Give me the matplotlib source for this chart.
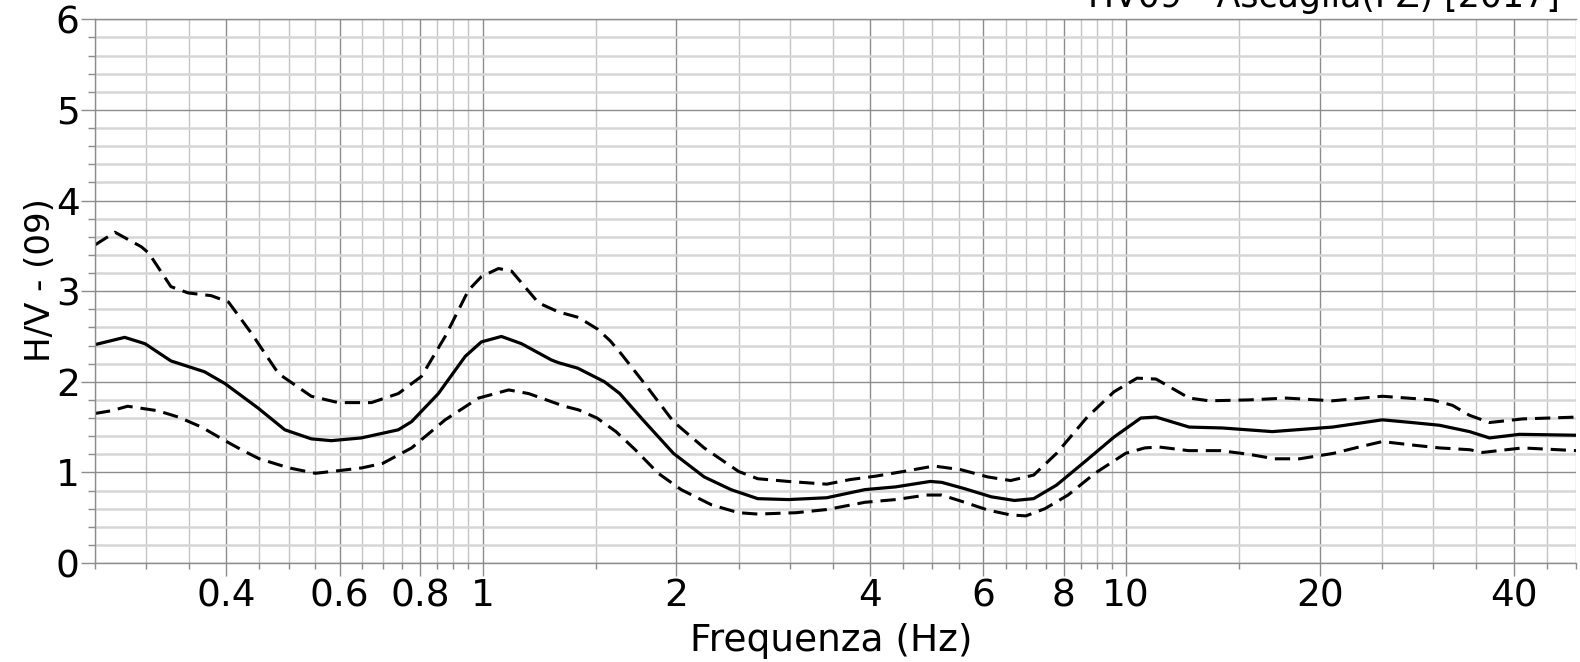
import matplotlib
matplotlib.use("Agg")
import matplotlib.pyplot as plt
from matplotlib.ticker import FixedLocator, NullFormatter, FixedFormatter

# ---------------- data ----------------
freq_mean = [0.25, 0.278, 0.299, 0.328, 0.370, 0.398, 0.448, 0.493, 0.542, 0.582,
             0.648, 0.740, 0.776, 0.854, 0.940, 0.996, 1.07, 1.15, 1.28, 1.313,
             1.406, 1.547, 1.634, 1.775, 1.980, 2.210, 2.432, 2.677, 2.987, 3.426,
             3.929, 4.385, 4.961, 5.169, 5.612, 6.177, 6.705, 7.183, 7.797, 8.700,
             9.577, 10.54, 11.13, 12.53, 14.11, 16.87, 20.92, 25.01, 27.8, 30.68,
             34.16, 36.69, 40.85, 50.0]
hv_mean = [2.41, 2.49, 2.42, 2.23, 2.11, 1.98, 1.71, 1.47, 1.37, 1.35,
           1.38, 1.47, 1.56, 1.87, 2.28, 2.44, 2.50, 2.42, 2.24, 2.21,
           2.15, 2.00, 1.87, 1.58, 1.21, 0.95, 0.81, 0.71, 0.70, 0.72,
           0.81, 0.84, 0.90, 0.89, 0.82, 0.73, 0.69, 0.71, 0.86, 1.14,
           1.39, 1.60, 1.61, 1.50, 1.49, 1.45, 1.50, 1.58, 1.55, 1.52,
           1.45, 1.38, 1.42, 1.41]

freq_up = [0.25, 0.2685, 0.295, 0.303, 0.328, 0.349, 0.379, 0.403, 0.437, 0.482,
           0.542, 0.597, 0.672, 0.740, 0.804, 0.875, 0.951, 0.996, 1.059, 1.11,
           1.222, 1.313, 1.41, 1.51, 1.58, 1.646, 1.799, 1.980, 2.210, 2.500,
           2.677, 2.987, 3.426, 3.721, 4.095, 4.507, 5.029, 5.536, 6.093, 6.614,
           7.183, 7.797, 8.700, 9.577, 10.40, 11.13, 12.53, 13.46, 15.54, 17.74,
           20.92, 25.01, 29.92, 32.14, 34.16, 36.69, 41.30, 50.0]
hv_up = [3.51, 3.65, 3.49, 3.42, 3.05, 2.98, 2.95, 2.88, 2.54, 2.09,
         1.84, 1.77, 1.77, 1.87, 2.06, 2.50, 3.01, 3.16, 3.25, 3.22,
         2.87, 2.77, 2.71, 2.58, 2.45, 2.30, 1.95, 1.56, 1.27, 1.01,
         0.93, 0.90, 0.87, 0.92, 0.96, 1.01, 1.07, 1.03, 0.95, 0.91,
         0.97, 1.21, 1.61, 1.89, 2.04, 2.03, 1.82, 1.79, 1.80, 1.82,
         1.79, 1.84, 1.80, 1.74, 1.63, 1.55, 1.59, 1.61]

freq_lo = [0.25, 0.265, 0.281, 0.313, 0.337, 0.366, 0.398, 0.422, 0.45, 0.50,
           0.55, 0.60, 0.65, 0.70, 0.776, 0.875, 0.986, 1.098, 1.179, 1.28,
           1.340, 1.41, 1.506, 1.612, 1.727, 1.875, 2.035, 2.272, 2.500, 2.677,
           3.071, 3.426, 3.929, 4.385, 4.894, 5.169, 5.612, 6.093, 6.614, 6.988,
           7.482, 8.124, 8.944, 9.98, 10.69, 11.25, 12.5, 14.0, 15.5, 17.0,
           18.6, 21.0, 23.0, 25.0, 28.0, 30.7, 34.2, 35.8, 39.0, 41.3, 50.0]
hv_lo = [1.65, 1.68, 1.73, 1.68, 1.61, 1.50, 1.35, 1.25, 1.15, 1.05,
         0.99, 1.02, 1.05, 1.10, 1.27, 1.58, 1.82, 1.91, 1.87, 1.78,
         1.73, 1.69, 1.60, 1.45, 1.25, 0.99, 0.81, 0.64, 0.555, 0.54,
         0.555, 0.59, 0.67, 0.70, 0.75, 0.75, 0.67, 0.585, 0.53, 0.52,
         0.60, 0.75, 0.99, 1.21, 1.27, 1.28, 1.24, 1.24, 1.20, 1.15,
         1.15, 1.21, 1.28, 1.34, 1.30, 1.27, 1.25, 1.22, 1.25, 1.27, 1.24]

x_major = [0.4, 0.6, 0.8, 1, 2, 4, 6, 8, 10, 20, 40]
x_major_labels = ["0.4", "0.6", "0.8", "1", "2", "4", "6", "8", "10", "20", "40"]
x_minor = ([0.25, 0.3, 0.35, 0.45, 0.5, 0.55, 0.65, 0.7, 0.75, 0.85, 0.9, 0.95, 1.5,
            2.5, 3, 3.5, 4.5, 5, 5.5, 6.5, 7, 7.5, 8.5, 9, 9.5, 15, 25, 30, 35, 45, 50])
y_major = [0, 1, 2, 3, 4, 5, 6]
y_minor = [v / 5 for v in range(0, 31) if v % 5 != 0]

title = "HV09 - Ascaglia(PZ) [2017]"
xlabel = "Frequenza (Hz)"
ylabel = "H/V - (09)"

# ---------------- figure ----------------
plt.rcParams['font.family'] = ['DejaVu Sans']
W, H = 1580, 662
fig = plt.figure(figsize=(W / 100, H / 100), dpi=100)
ax = fig.add_axes([95 / W, (H - 563) / H, (1576 - 95) / W, (563 - 19.3) / H])

ax.set_xscale("log")
ax.set_xlim(0.25, 50)
ax.set_ylim(0, 6)

ax.xaxis.set_major_locator(FixedLocator(x_major))
ax.xaxis.set_major_formatter(FixedFormatter(x_major_labels))
ax.xaxis.set_minor_locator(FixedLocator(x_minor))
ax.xaxis.set_minor_formatter(NullFormatter())
ax.yaxis.set_major_locator(FixedLocator(y_major))
ax.yaxis.set_minor_locator(FixedLocator(y_minor))

ax.set_axisbelow(True)
ax.grid(True, axis="y", which="minor", color="#d6d6d6", lw=1.8)
ax.grid(True, axis="y", which="major", color="#8c8c8c", lw=1.0)
ax.grid(True, axis="x", which="minor", color="#c4c4c4", lw=1.0)
ax.grid(True, axis="x", which="major", color="#8c8c8c", lw=1.0)

ax.tick_params(axis="x", which="major", length=9, width=1, color="#8c8c8c",
               labelsize=27, pad=2)
ax.tick_params(axis="x", which="minor", length=4.5, width=1, color="#8c8c8c")
ax.tick_params(axis="y", which="major", length=10, width=1, color="#8c8c8c",
               labelsize=27, pad=1)
ax.tick_params(axis="y", which="minor", length=5, width=1, color="#8c8c8c")

for side in ["left", "bottom", "top"]:
    ax.spines[side].set_color("#8c8c8c")
    ax.spines[side].set_linewidth(1.0)
ax.spines["right"].set_visible(False)

ax.plot(freq_up, hv_up, color="black", lw=2.2, dashes=(5, 2.6), solid_capstyle="butt")
ax.plot(freq_lo, hv_lo, color="black", lw=2.2, dashes=(5, 2.6), solid_capstyle="butt")
ax.plot(freq_mean, hv_mean, color="black", lw=2.3)

fig.text(831 / W, 1 - 641 / H, xlabel, ha="center", va="center", fontsize=27)
fig.text(40 / W, 1 - 280 / H, ylabel, ha="center", va="center", rotation=90, fontsize=24.5)
fig.text(1560 / W, 1 - 7 / H, title, ha="right", va="baseline", fontsize=25)

fig.savefig("out.png", dpi=100)
